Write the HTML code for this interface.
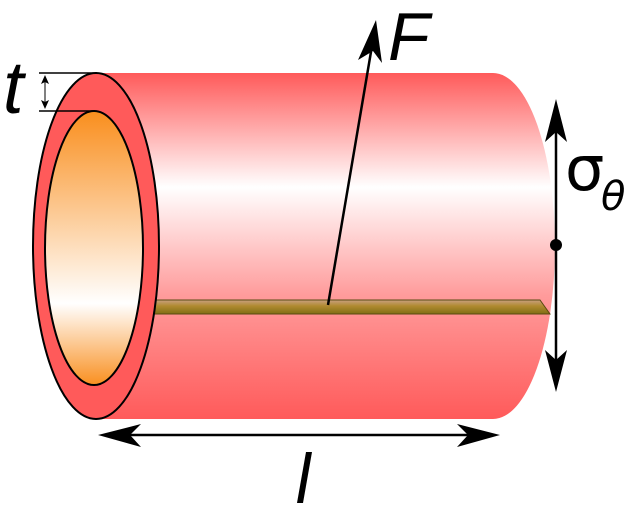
<!DOCTYPE html>
<html><head><meta charset="utf-8"><style>html,body{margin:0;padding:0;background:#fff}svg{display:block}</style></head>
<body>
<svg width="636" height="512" viewBox="0 0 636 512" xmlns="http://www.w3.org/2000/svg">
<defs>
<linearGradient id="body" x1="0" y1="73" x2="0" y2="419" gradientUnits="userSpaceOnUse">
<stop offset="0" stop-color="#ff5a5a"/>
<stop offset="0.33" stop-color="#ffffff"/>
<stop offset="0.64" stop-color="#ff9c9c"/>
<stop offset="1" stop-color="#ff5a5a"/>
</linearGradient>
<linearGradient id="inner" x1="0" y1="111" x2="0" y2="386" gradientUnits="userSpaceOnUse">
<stop offset="0" stop-color="#f98e1d"/>
<stop offset="0.7" stop-color="#ffffff"/>
<stop offset="1" stop-color="#f98e1d"/>
</linearGradient>
<linearGradient id="slot" x1="0" y1="300" x2="0" y2="315" gradientUnits="userSpaceOnUse">
<stop offset="0" stop-color="#c9a080"/>
<stop offset="0.4" stop-color="#b08a30"/>
<stop offset="1" stop-color="#7a6a10"/>
</linearGradient>
</defs>
<path d="M96,73 L493,73 A62,173 0 0 1 493,419 L96,419 Z" fill="url(#body)"/>
<polygon points="143,300 540,300 550,314 153,314" fill="url(#slot)" stroke="#5a4a10" stroke-width="1"/>
<ellipse cx="96" cy="246" rx="63" ry="173" fill="#ff5a5a" stroke="#000" stroke-width="2"/>
<ellipse cx="94" cy="248" rx="49" ry="137" fill="url(#inner)" stroke="#000" stroke-width="2"/>
<polygon points="143,300 153,314 145,314" fill="#ff5a5a"/>
<line x1="39" y1="73" x2="97" y2="73" stroke="#000" stroke-width="1.5"/>
<line x1="39" y1="111" x2="95" y2="111" stroke="#000" stroke-width="1.5"/>
<line x1="45" y1="78" x2="45" y2="106" stroke="#000" stroke-width="1"/>
<polygon points="45,75 41,84 45,82 49,84" fill="#000"/>
<polygon points="45,109 41,100 45,102 49,100" fill="#000"/>
<text x="3" y="113" font-family="Liberation Sans, sans-serif" font-style="italic" font-size="74">t</text>
<line x1="328" y1="305" x2="373" y2="40" stroke="#000" stroke-width="2.5"/>
<polygon points="376,20 382,63 373,51 358,60" fill="#000"/>
<text x="388" y="60" font-family="Liberation Sans, sans-serif" font-style="italic" font-size="68">F</text>
<line x1="556" y1="110" x2="556" y2="380" stroke="#000" stroke-width="2.5"/>
<polygon points="556,99 545,142 556,132 567,142" fill="#000"/>
<polygon points="556,392 545,350 556,360 567,350" fill="#000"/>
<circle cx="556" cy="245" r="6" fill="#000"/>
<text x="565" y="190" font-family="DejaVu Sans, sans-serif" font-size="62">σ</text>
<text x="601" y="210" font-family="DejaVu Sans, sans-serif" font-style="italic" font-size="40">θ</text>
<line x1="110" y1="435" x2="488" y2="435" stroke="#000" stroke-width="2.5"/>
<polygon points="98,435 141,424 130,435 141,447" fill="#000"/>
<polygon points="500,435 457,424 468,435 457,447" fill="#000"/>
<polygon points="306,452 312,452 303,503 297,503" fill="#000"/>
<text x="0" y="0" font-size="1" fill="#fff">l</text>
</svg>
</body></html>
